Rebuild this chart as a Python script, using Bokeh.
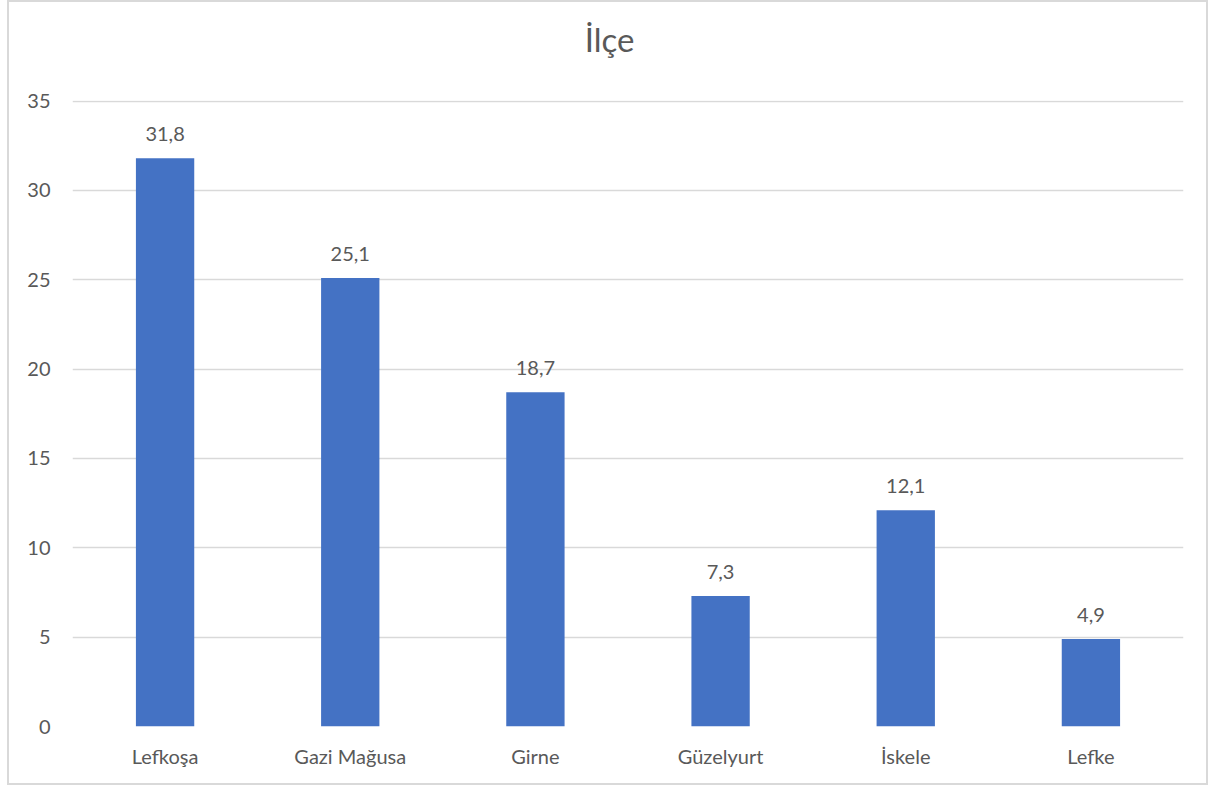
from bokeh.plotting import figure
from bokeh.models import Range1d, FixedTicker, ColumnDataSource, LabelSet, LinearAxis
from bokeh.core.properties import value
from bokeh.embed import file_html
from bokeh.resources import INLINE

categories = ["Lefkoşa", "Gazi Mağusa", "Girne", "Güzelyurt", "İskele", "Lefke"]
values = [31.8, 25.1, 18.7, 7.3, 12.1, 4.9]
y_ticks = [0, 5, 10, 15, 20, 25, 30, 35]
title_text = "İlçe"

FONT = "Lato"
TXT = "#595959"
GRID = "#D9D9D9"
BAR = "#4472C4"

xs = [i + 0.5 for i in range(len(categories))]
labels = [f"{v:.1f}".replace(".", ",") for v in values]
src = ColumnDataSource(dict(x=xs, top=values, label=labels))

p = figure(width=1201, height=785, output_backend="svg", toolbar_location=None,
           x_range=Range1d(0, len(categories)), y_range=Range1d(0, 35.03),
           min_border_left=63, min_border_right=27, min_border_top=98, min_border_bottom=61)
p.styles = {"border": "2px solid #D9D9D9", "margin-left": "7px"}
p.outline_line_color = None
p.background_fill_color = "white"
p.border_fill_color = "white"

# chart title, centred over the whole chart area, drawn as a top axis label
title_pos = 2.9
title_axis = LinearAxis(ticker=FixedTicker(ticks=[title_pos]),
                        major_label_overrides={title_pos: title_text})
title_axis.axis_line_color = None
title_axis.major_tick_line_color = None
title_axis.minor_tick_line_color = None
title_axis.major_label_standoff = 36
title_axis.major_label_text_font = FONT
title_axis.major_label_text_font_size = "33px"
title_axis.major_label_text_color = TXT
p.add_layout(title_axis, "above")

p.vbar(x="x", top="top", width=0.315, bottom=0, source=src, fill_color=BAR, line_color=None)

p.add_layout(LabelSet(x="x", y="top", text="label", source=src, text_align="center",
                      text_baseline="alphabetic", y_offset=17, text_font=value(FONT),
                      text_font_size="20px", text_color=TXT))

p.xgrid.grid_line_color = None
p.ygrid.grid_line_color = GRID
p.ygrid.grid_line_width = 1.5
p.ygrid.ticker = FixedTicker(ticks=y_ticks)

p.yaxis.ticker = FixedTicker(ticks=y_ticks)
p.yaxis.axis_line_color = None
p.yaxis.major_tick_line_color = None
p.yaxis.minor_tick_line_color = None
p.yaxis.major_label_standoff = 16
p.yaxis.major_label_text_font = FONT
p.yaxis.major_label_text_font_size = "20px"
p.yaxis.major_label_text_color = TXT

xaxis = p.below[0]
xaxis.ticker = FixedTicker(ticks=xs)
xaxis.major_label_overrides = {x: c for x, c in zip(xs, categories)}
xaxis.axis_line_color = None
xaxis.major_tick_line_color = None
xaxis.minor_tick_line_color = None
xaxis.major_label_standoff = 11
xaxis.major_label_text_font = FONT
xaxis.major_label_text_font_size = "20px"
xaxis.major_label_text_color = TXT

open("out.html", "w").write(file_html(p, INLINE))
